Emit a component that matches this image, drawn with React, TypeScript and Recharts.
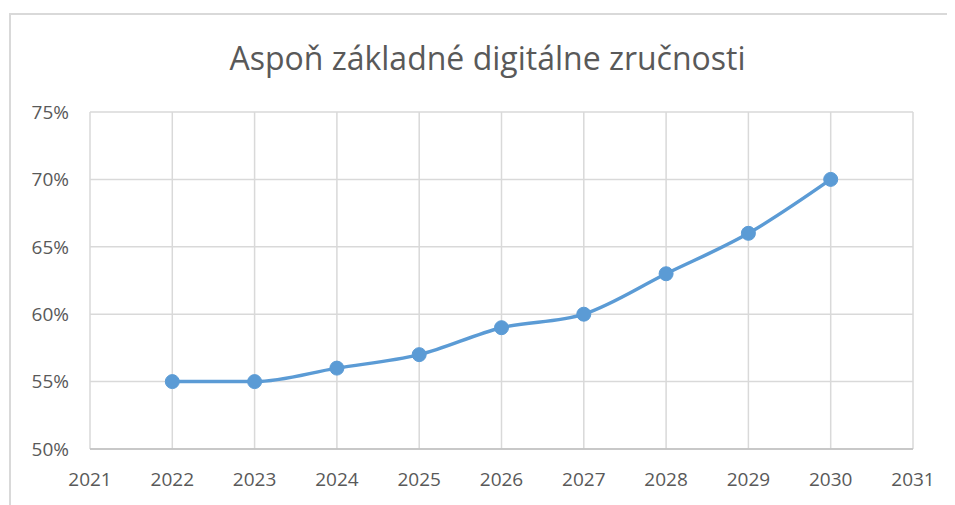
import { LineChart, Line, XAxis, YAxis, CartesianGrid } from 'recharts';

const years = [2022, 2023, 2024, 2025, 2026, 2027, 2028, 2029, 2030];
const shares = [55, 55, 56, 57, 59, 60, 63, 66, 70];
const xTicks = [2021, 2022, 2023, 2024, 2025, 2026, 2027, 2028, 2029, 2030, 2031];
const yTicks = [50, 55, 60, 65, 70, 75];

const chartData = years.map((year, i) => ({ year, value: shares[i] }));

const font = '"Open Sans", sans-serif';
const textColor = '#595959';

export default function App() {
  return (
    <div style={{ position: 'relative', width: 947, height: 497, overflow: 'hidden', fontFamily: font }}>
      <div
        style={{
          position: 'absolute',
          left: 1,
          top: 5,
          width: 1000,
          height: 600,
          borderTop: '2px solid #d9d9d9',
          borderLeft: '2px solid #d9d9d9'
        }}
      />
      <div
        style={{
          position: 'absolute',
          left: 0,
          width: 959,
          top: 28,
          textAlign: 'center',
          fontSize: 32,
          color: textColor,
          lineHeight: '44px'
        }}
      >
        Aspoň základné digitálne zručnosti
      </div>
      <LineChart
        width={947}
        height={497}
        data={chartData}
        margin={{ top: 104, right: 42, left: 0, bottom: 0 }}
        style={{ position: 'absolute', left: 0, top: 0 }}
      >
        <CartesianGrid stroke="#d9d9d9" strokeWidth={1.5} />
        <XAxis
          dataKey="year"
          type="number"
          domain={[2021, 2031]}
          ticks={xTicks}
          height={56}
          axisLine={{ stroke: '#bfbfbf', strokeWidth: 1.5 }}
          tickLine={false}
          tickSize={0}
          tickMargin={24}
          tick={{ fill: textColor, fontSize: 19, fontFamily: font }}
        />
        <YAxis
          type="number"
          domain={[50, 75]}
          ticks={yTicks}
          width={82}
          axisLine={false}
          tickLine={false}
          tickSize={0}
          tickMargin={21}
          tickFormatter={(v) => `${v}%`}
          tick={{ fill: textColor, fontSize: 19, fontFamily: font }}
        />
        <Line
          type="monotone"
          dataKey="value"
          stroke="#5b9bd5"
          strokeWidth={3.5}
          dot={{ r: 7, fill: '#5b9bd5', stroke: '#5b9bd5', strokeWidth: 1 }}
          isAnimationActive={false}
        />
      </LineChart>
    </div>
  );
}
